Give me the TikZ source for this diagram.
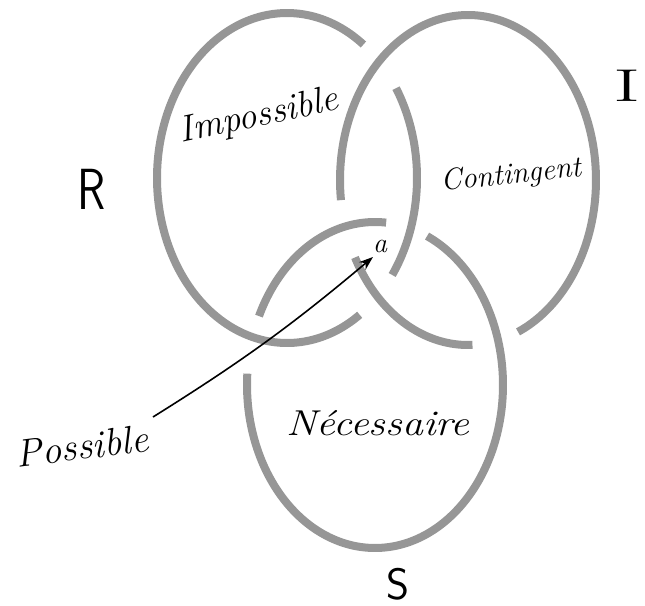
\documentclass[tikz,border=0pt]{standalone}
\usetikzlibrary{arrows.meta}
\definecolor{ring}{RGB}{150,150,150}
\newcommand{\ringarc}[6]{\draw[ringline] plot[domain=#5:#6, samples=90, smooth, variable=\t] ({#1+#3*cos(\t)},{#2+#4*sin(\t)});}
\begin{document}
\begin{tikzpicture}[x=1pt,y=-1pt,
  ringline/.style={draw=ring, line width=8pt, line cap=butt},
  hand/.style={font=\itshape\fontsize{36}{36}\selectfont, inner sep=0pt},
  letter/.style={font=\sffamily\fontsize{44}{44}\selectfont, inner sep=0pt},
  pointer/.style={-{Stealth[length=14pt,width=10pt]}, line width=1.6pt, black}]
\useasboundingbox (0,0) rectangle (645,605);
% ring R
\ringarc{287}{178}{130}{165}{56}{306}
\ringarc{287}{178}{130}{165}{-33}{36}
% ring I
\ringarc{468}{180}{128}{165}{88}{152}
\ringarc{468}{180}{128}{165}{173}{427}
% ring S
\ringarc{375}{385}{128}{163}{-66}{184}
\ringarc{375}{385}{128}{163}{205}{275}
% labels
\node[hand, font=\itshape\fontsize{37}{37}\selectfont, rotate=12] (imp) at (259,117) {Impossible};
\node[hand, font=\itshape\fontsize{30}{30}\selectfont, rotate=6] (con) at (511,176) {Contingent};
\node[hand, xscale=1.16] (nec) at (378,423) {Nécessaire};
\node[hand, font=\itshape\fontsize{39}{39}\selectfont, rotate=7] (pos) at (82,446) {Possible};
\node[hand, font=\itshape\fontsize{28}{28}\selectfont] (a) at (380,246) {a};
\node[letter, font=\sffamily\fontsize{58}{58}\selectfont, xscale=0.8] (R) at (92,189) {R};
\node[letter, font=\rmfamily\fontsize{46}{46}\selectfont, xscale=1.8] (I) at (627,86) {I};
\node[letter] (S) at (398,584) {S};
% arrow
\coordinate (ps) at (153,417);
\coordinate (at) at (373,257);
\draw[pointer] (ps) to[bend right=4] (at);
\end{tikzpicture}
\end{document}
